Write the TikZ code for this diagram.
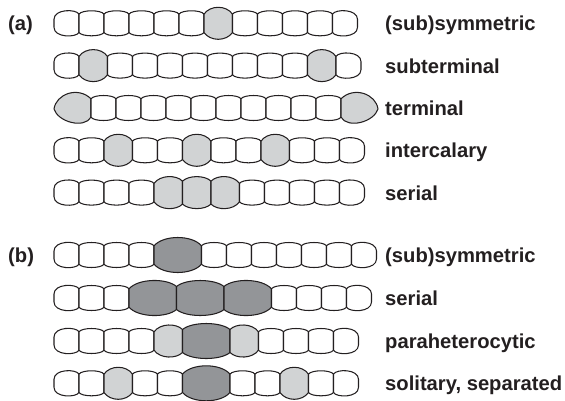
\documentclass[tikz,border=0pt]{standalone}
\usepackage{fontspec}
\setmainfont{Liberation Sans}
\definecolor{hetero}{HTML}{D1D3D4}
\definecolor{akin}{HTML}{939598}
\definecolor{ink}{HTML}{231F20}
\tikzset{
  cell/.style={draw=ink, line width=1.05pt, line join=round},
  lab/.style={anchor=base west, inner sep=0pt, text=ink, font=\fontsize{20.2}{24}\selectfont\bfseries}
}
\newcommand\settype[1]{%
  \if#1v\def\cw{25}\def\chh{12.5}\def\cfill{white}\def\ck{0.12}\fi
  \if#1L\def\cw{28.5}\def\chh{16}\def\cfill{hetero}\def\ck{0.22}\fi
  \if#1D\def\cw{47.5}\def\chh{17.5}\def\cfill{akin}\def\ck{0.2}\fi
  \if#1T\def\cw{37}\def\chh{16}\def\cfill{hetero}\def\ck{0.15}\fi}
\newcommand\wallof[2]{%
  \def\wa{11.5}%
  \if#1v\def\wa{9.2}\fi
  \if#2v\def\wa{9.2}\fi}
\newcommand\filrow[2]{%
  \foreach \t [count=\cnt] in {#2} {\expandafter\xdef\csname ct\cnt\endcsname{\t}\xdef\ncells{\cnt}}%
  \expandafter\gdef\csname ct0\endcsname{E}%
  \pgfmathtruncatemacro\nlast{\ncells+1}%
  \expandafter\xdef\csname ct\nlast\endcsname{E}%
  \xdef\curx{54}%
  \foreach \i in {1,...,\ncells}{%
    \pgfmathtruncatemacro\ip{\i-1}%
    \pgfmathtruncatemacro\inx{\i+1}%
    \edef\tc{\csname ct\i\endcsname}%
    \edef\tp{\csname ct\ip\endcsname}%
    \edef\tn{\csname ct\inx\endcsname}%
    \settype\tc
    \wallof\tp\tc \let\aL\wa
    \wallof\tc\tn \let\aR\wa
    \pgfmathsetmacro\xa{\curx}%
    \pgfmathsetmacro\xb{\curx+\cw}%
    \pgfmathsetmacro\kL{\ck*\cw}%
    \let\kR\kL
    \if\tp E\def\aL{4}\def\kL{0}\fi
    \if\tn E\def\aR{4}\def\kR{0}\fi
    \pgfmathsetmacro\HH{(8*\chh-\aL-\aR)/6}%
    \def\cc{#1}%
    \if\tc T%
      \if\tp E%
        \filldraw[cell,fill=\cfill] (\xa,\cc+1) .. controls (\xa+2,\cc-14) and (\xa+24,\cc-22) .. (\xb,\cc-\aR) -- (\xb,\cc+\aR) .. controls (\xa+30,\cc+21) and (\xa+4,\cc+14) .. cycle;
      \else
        \filldraw[cell,fill=\cfill] (\xb,\cc+1) .. controls (\xb-2,\cc-14) and (\xb-24,\cc-22) .. (\xa,\cc-\aL) -- (\xa,\cc+\aL) .. controls (\xb-30,\cc+21) and (\xb-4,\cc+14) .. cycle;
      \fi
    \else
      \filldraw[cell,fill=\cfill] (\xa,\cc-\aL) .. controls (\xa+\kL,\cc-\HH) and (\xb-\kR,\cc-\HH) .. (\xb,\cc-\aR) -- (\xb,\cc+\aR) .. controls (\xb-\kR,\cc+\HH) and (\xa+\kL,\cc+\HH) .. (\xa,\cc+\aL) -- cycle;
    \fi
    \xdef\curx{\xb}%
  }%
}
\begin{document}
\begin{tikzpicture}[x=1pt,y=-1pt]
\useasboundingbox (0,0) rectangle (565,400);
% (a)
\filrow{23.3}{v,v,v,v,v,v,L,v,v,v,v,v}
\filrow{65.6}{v,L,v,v,v,v,v,v,v,v,L,v}
\filrow{108}{T,v,v,v,v,v,v,v,v,v,v,T}
\filrow{150.3}{v,v,L,v,v,L,v,v,L,v,v,v}
\filrow{192.6}{v,v,v,v,L,L,L,v,v,v,v,v}
% (b)
\filrow{255}{v,v,v,v,D,v,v,v,v,v,v,v}
\filrow{298}{v,v,v,D,D,D,v,v,v,v}
\filrow{341}{v,v,v,v,L,D,L,v,v,v,v}
\filrow{383.3}{v,v,L,v,v,D,v,v,L,v,v}
% labels
\node[lab] (pa) at (8,30.9) {(a)};
\node[lab] (pb) at (8,262.6) {(b)};
\node[lab] (a1) at (385,30.9) {(sub)symmetric};
\node[lab] (a2) at (385,73.2) {subterminal};
\node[lab] (a3) at (385,115.6) {terminal};
\node[lab] (a4) at (385,157.9) {intercalary};
\node[lab] (a5) at (385,200.2) {serial};
\node[lab] (b1) at (385,262.6) {(sub)symmetric};
\node[lab] (b2) at (385,305.6) {serial};
\node[lab] (b3) at (385,348.6) {paraheterocytic};
\node[lab] (b4) at (385,390.9) {solitary, separated};
\end{tikzpicture}
\end{document}
